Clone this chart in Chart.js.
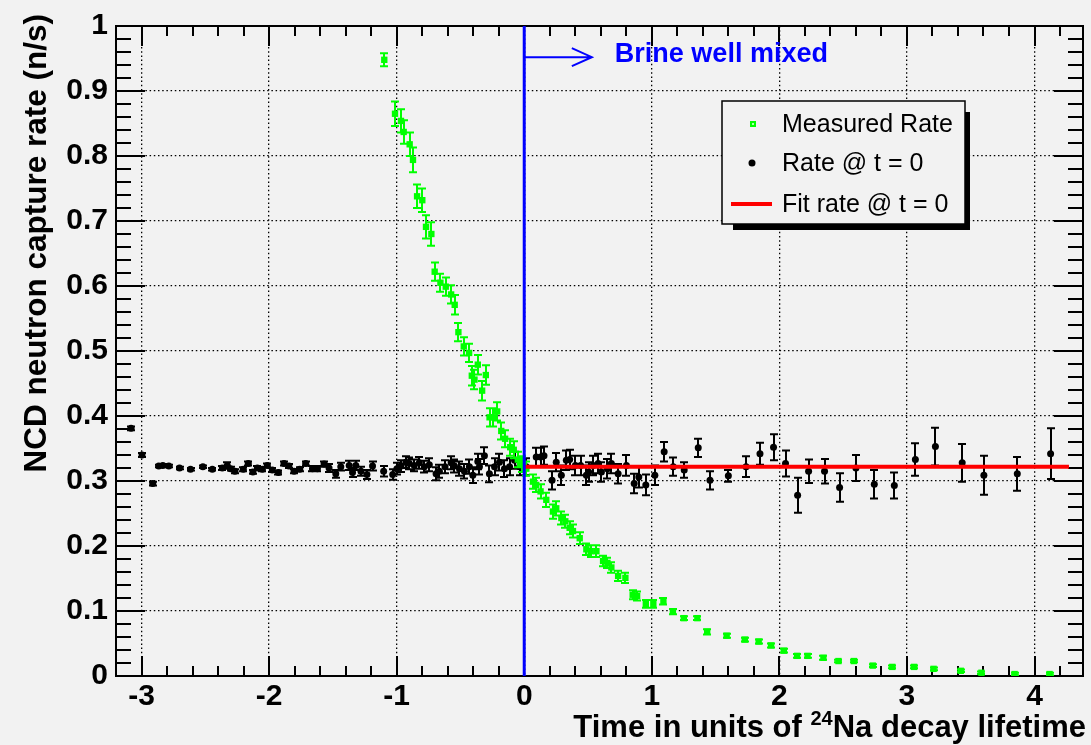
<!DOCTYPE html>
<html>
<head>
<meta charset="utf-8">
<script src="https://cdn.jsdelivr.net/npm/chart.js@4.4.0/dist/chart.umd.min.js"></script>
<style>
  html, body { margin: 0; padding: 0; background: #f2f2f2; }
  #wrap { width: 1091px; height: 745px; position: relative; }
</style>
</head>
<body>
<div id="wrap"><canvas id="c" width="1091" height="745"></canvas></div>
<script>
// ---- Measured NCD capture rate (green) ----
const measuredX = [
  -1.097, -1.013, -0.966, -0.945, -0.898, -0.872, -0.840, -0.799, -0.770, -0.728,
  -0.702, -0.657, -0.615, -0.573, -0.545, -0.516, -0.474, -0.432, -0.411, -0.390,
  -0.364, -0.330, -0.301, -0.272, -0.241, -0.212, -0.180, -0.150, -0.110, -0.082,
  -0.050, -0.020,
  0.016, 0.068, 0.094, 0.128, 0.173, 0.225, 0.251, 0.291, 0.322, 0.356,
  0.382, 0.435, 0.487, 0.521, 0.566, 0.618, 0.652, 0.683, 0.736, 0.793,
  0.850, 0.885, 0.953, 1.012, 1.091, 1.165, 1.251, 1.357, 1.434, 1.587,
  1.729, 1.838, 1.935, 2.035, 2.139, 2.221, 2.345, 2.463, 2.584, 2.732,
  2.885, 3.056, 3.209, 3.422, 3.584, 3.844, 4.118
];
const measuredY = [
  0.948, 0.865, 0.854, 0.837, 0.818, 0.794, 0.738, 0.732, 0.691, 0.680,
  0.622, 0.605, 0.599, 0.587, 0.571, 0.529, 0.507, 0.497, 0.462, 0.456,
  0.479, 0.439, 0.463, 0.398, 0.398, 0.407, 0.377, 0.365, 0.352, 0.348,
  0.333, 0.326,
  0.319, 0.299, 0.294, 0.284, 0.271, 0.253, 0.258, 0.243, 0.238, 0.228,
  0.223, 0.212, 0.195, 0.192, 0.192, 0.177, 0.174, 0.167, 0.154, 0.151,
  0.125, 0.123, 0.111, 0.111, 0.115, 0.099, 0.089, 0.089, 0.068, 0.062,
  0.056, 0.053, 0.047, 0.039, 0.031, 0.031, 0.028, 0.023, 0.023, 0.016,
  0.014, 0.014, 0.011, 0.008, 0.005, 0.003, 0.003
];
const measuredErr = [
  0.010, 0.019, 0.018, 0.018, 0.018, 0.019, 0.018, 0.018, 0.018, 0.018,
  0.014, 0.014, 0.014, 0.014, 0.015, 0.014, 0.014, 0.014, 0.015, 0.015,
  0.015, 0.015, 0.015, 0.014, 0.014, 0.014, 0.013, 0.013, 0.013, 0.013,
  0.012, 0.012,
  0.011, 0.011, 0.011, 0.011, 0.011, 0.011, 0.011, 0.010, 0.010, 0.010,
  0.010, 0.009, 0.009, 0.009, 0.009, 0.008, 0.008, 0.008, 0.008, 0.008,
  0.007, 0.007, 0.006, 0.006, 0.005, 0.004, 0.003, 0.003, 0.004, 0.003,
  0.003, 0.003, 0.003, 0.003, 0.003, 0.003, 0.003, 0.002, 0.002, 0.002,
  0.002, 0.002, 0.002, 0.002, 0.002, 0.002, 0.002
];

// ---- Rate extrapolated to t = 0 (black) ----
const rateX = [
  -3.082, -2.996, -2.912, -2.865, -2.833, -2.786, -2.702, -2.616, -2.519, -2.445,
  -2.367, -2.328, -2.302, -2.268, -2.202, -2.163, -2.127, -2.092, -2.053, -2.014,
  -1.975, -1.927, -1.883, -1.844, -1.804, -1.760, -1.713, -1.660, -1.621, -1.569,
  -1.530, -1.477, -1.438, -1.372, -1.346, -1.320, -1.280, -1.233, -1.189, -1.102,
  -1.031, -0.998, -0.966, -0.927, -0.901, -0.862, -0.822, -0.783, -0.744, -0.691,
  -0.665, -0.621, -0.573, -0.547, -0.508, -0.469, -0.430, -0.403, -0.364, -0.351,
  -0.312, -0.273, -0.233, -0.194, -0.155, -0.115, -0.076, -0.037, 0.016,
  0.094, 0.128, 0.155, 0.218, 0.251, 0.291, 0.330, 0.356, 0.401, 0.442,
  0.487, 0.505, 0.540, 0.579, 0.605, 0.652, 0.683, 0.736, 0.801, 0.862,
  0.898, 0.953, 1.024, 1.097, 1.168, 1.254, 1.364, 1.456, 1.600, 1.739,
  1.848, 1.954, 2.048, 2.143, 2.229, 2.354, 2.472, 2.600, 2.744, 2.901,
  3.066, 3.223, 3.433, 3.603, 3.865, 4.126
];
const rateY = [
  0.381, 0.340, 0.296, 0.323, 0.324, 0.323, 0.320, 0.318, 0.322, 0.318,
  0.320, 0.324, 0.319, 0.315, 0.318, 0.327, 0.314, 0.320, 0.318, 0.324,
  0.317, 0.313, 0.327, 0.323, 0.315, 0.318, 0.327, 0.319, 0.319, 0.326,
  0.320, 0.311, 0.322, 0.324, 0.313, 0.324, 0.315, 0.310, 0.323, 0.315,
  0.310, 0.319, 0.323, 0.329, 0.327, 0.324, 0.328, 0.322, 0.325, 0.311,
  0.315, 0.322, 0.328, 0.323, 0.319, 0.315, 0.322, 0.309, 0.330, 0.322,
  0.339, 0.311, 0.322, 0.329, 0.319, 0.322, 0.332, 0.322, 0.322,
  0.337, 0.337, 0.339, 0.301, 0.329, 0.309, 0.332, 0.333, 0.324, 0.324,
  0.309, 0.314, 0.324, 0.327, 0.314, 0.319, 0.327, 0.311, 0.324, 0.296,
  0.306, 0.294, 0.309, 0.345, 0.322, 0.317, 0.351, 0.301, 0.308, 0.322,
  0.342, 0.352, 0.327, 0.278, 0.315, 0.315, 0.290, 0.320, 0.295, 0.293,
  0.333, 0.353, 0.328, 0.309, 0.311, 0.342
];
const rateErr = [
  0.003, 0.003, 0.003, 0.002, 0.002, 0.002, 0.002, 0.002, 0.002, 0.002,
  0.003, 0.005, 0.003, 0.003, 0.003, 0.003, 0.003, 0.003, 0.003, 0.003,
  0.003, 0.003, 0.003, 0.003, 0.003, 0.003, 0.003, 0.004, 0.004, 0.004,
  0.006, 0.006, 0.006, 0.007, 0.007, 0.007, 0.007, 0.007, 0.007, 0.008,
  0.008, 0.009, 0.009, 0.009, 0.009, 0.009, 0.009, 0.009, 0.010, 0.010,
  0.010, 0.010, 0.010, 0.010, 0.011, 0.011, 0.011, 0.012, 0.012, 0.012,
  0.013, 0.013, 0.013, 0.013, 0.013, 0.013, 0.013, 0.013, 0.013,
  0.014, 0.014, 0.014, 0.014, 0.014, 0.015, 0.015, 0.015, 0.015, 0.015,
  0.015, 0.015, 0.015, 0.015, 0.015, 0.015, 0.015, 0.015, 0.016, 0.015,
  0.016, 0.016, 0.015, 0.015, 0.014, 0.012, 0.014, 0.014, 0.009, 0.016,
  0.017, 0.020, 0.020, 0.027, 0.018, 0.019, 0.022, 0.020, 0.022, 0.020,
  0.025, 0.029, 0.029, 0.030, 0.026, 0.039
];

// ---- Fit of the t = 0 rate and the mixing marker ----
const fitRate = 0.322;
const fitRange = [0, 4.27];
const mixTime = 0;
const mixNote = 'Brine well mixed';

// ---- Axis ticks ----
const xTickValues = [-3, -2, -1, 0, 1, 2, 3, 4];
const xTickLabels = ['-3', '-2', '-1', '0', '1', '2', '3', '4'];
const yTickValues = [0, 0.1, 0.2, 0.3, 0.4, 0.5, 0.6, 0.7, 0.8, 0.9, 1];
const yTickLabels = ['0', '0.1', '0.2', '0.3', '0.4', '0.5', '0.6', '0.7', '0.8', '0.9', '1'];

const seriesNames = ['Measured Rate', 'Rate @ t = 0', 'Fit rate @ t = 0'];

const FONT = '"Liberation Sans", Arial, Helvetica, sans-serif';
const GREEN = '#00ff00', BLACK = '#000000', RED = '#ff0000', BLUE = '#0000ff';

const pts = (xs, ys) => xs.map((x, i) => ({ x, y: ys[i] }));
const labelFor = (vals, labels) => (v) => {
  const i = vals.findIndex(t => Math.abs(t - v) < 1e-6);
  return i < 0 ? '' : labels[i];
};

// vertical error bars with end caps, drawn just beneath each dataset's markers
const errorBars = {
  id: 'errorBars',
  beforeDatasetDraw(chart, args) {
    const ds = chart.data.datasets[args.index];
    if (!ds.errors) return;
    const { ctx, chartArea: a } = chart;
    const xs = chart.scales.x, ys = chart.scales.y;
    const cap = 4;
    ctx.save();
    ctx.beginPath();
    ctx.rect(a.left, a.top, a.right - a.left, a.bottom - a.top);
    ctx.clip();
    ctx.beginPath();
    ctx.strokeStyle = ds.errorColor;
    ctx.lineWidth = 2;
    ds.data.forEach((p, i) => {
      const e = ds.errors[i];
      const px = Math.round(xs.getPixelForValue(p.x));
      const t = ys.getPixelForValue(p.y + e);
      const b = ys.getPixelForValue(p.y - e);
      ctx.moveTo(px, t); ctx.lineTo(px, b);
      ctx.moveTo(px - cap, t); ctx.lineTo(px + cap, t);
      ctx.moveTo(px - cap, b); ctx.lineTo(px + cap, b);
    });
    ctx.stroke();
    ctx.restore();
  }
};

// frame with inward ticks on all four sides, drawn under the data
const frameAxes = {
  id: 'frameAxes',
  beforeDatasetsDraw(chart) {
    const { ctx, chartArea: a } = chart;
    const xs = chart.scales.x, ys = chart.scales.y;
    ctx.save();
    ctx.strokeStyle = BLACK;
    ctx.lineWidth = 2;
    ctx.beginPath();
    for (let k = Math.ceil(xs.min / 0.2 - 1e-9); k * 0.2 <= xs.max + 1e-9; k++) {
      const v = k * 0.2;
      const major = Math.abs(v - Math.round(v)) < 1e-6;
      const len = major ? 20 : 10;
      const px = Math.round(xs.getPixelForValue(v));
      ctx.moveTo(px, a.bottom); ctx.lineTo(px, a.bottom - len);
      ctx.moveTo(px, a.top); ctx.lineTo(px, a.top + len);
    }
    for (let k = 0; k <= 50; k++) {
      const v = k * 0.02;
      const major = k % 5 === 0;
      const len = major ? 29 : 15;
      const py = Math.round(ys.getPixelForValue(v));
      ctx.moveTo(a.left, py); ctx.lineTo(a.left + len, py);
      ctx.moveTo(a.right, py); ctx.lineTo(a.right - len, py);
    }
    ctx.stroke();
    ctx.strokeRect(a.left, a.top, a.right - a.left, a.bottom - a.top);
    ctx.restore();
  }
};

// titles, annotation and legend
const decorations = {
  id: 'decorations',
  afterDraw(chart) {
    const { ctx } = chart;
    const xs = chart.scales.x, ys = chart.scales.y;
    ctx.save();

    // arrow marking the mixing time
    const ay = ys.getPixelForValue(0.952);
    const ax0 = xs.getPixelForValue(mixTime);
    const ax1 = xs.getPixelForValue(mixTime + 0.53);
    ctx.strokeStyle = BLUE;
    ctx.lineWidth = 2;
    ctx.beginPath();
    ctx.moveTo(ax0, ay); ctx.lineTo(ax1, ay);
    ctx.moveTo(ax1 - 20, ay - 9); ctx.lineTo(ax1, ay); ctx.lineTo(ax1 - 20, ay + 9);
    ctx.stroke();
    ctx.fillStyle = BLUE;
    ctx.font = 'bold 27px ' + FONT;
    ctx.textAlign = 'left';
    ctx.textBaseline = 'middle';
    ctx.fillText(mixNote, ax1 + 23, ay - 3);

    // axis titles
    ctx.fillStyle = BLACK;
    ctx.font = 'bold 31.5px ' + FONT;
    ctx.save();
    ctx.translate(37, 14);
    ctx.rotate(-Math.PI / 2);
    ctx.textAlign = 'right';
    ctx.textBaseline = 'middle';
    ctx.fillText('NCD neutron capture rate (n/s)', 0, 0);
    ctx.restore();

    const t1 = 'Time in units of ', sup = '24', t2 = 'Na decay lifetime';
    const bigF = 'bold 31px ' + FONT, supF = 'bold 20px ' + FONT;
    ctx.font = bigF; const w1 = ctx.measureText(t1).width, w3 = ctx.measureText(t2).width;
    ctx.font = supF; const w2 = ctx.measureText(sup).width;
    let tx = 1086 - (w1 + w2 + w3);
    const ty = 737;
    ctx.textAlign = 'left';
    ctx.textBaseline = 'alphabetic';
    ctx.font = bigF; ctx.fillText(t1, tx, ty); tx += w1;
    ctx.font = supF; ctx.fillText(sup, tx, ty - 12); tx += w2;
    ctx.font = bigF; ctx.fillText(t2, tx, ty);

    // legend box with drop shadow
    const L = 722, T = 101, R = 965, B = 224;
    ctx.fillStyle = BLACK;
    ctx.fillRect(733, 112, 237, 118);
    ctx.fillStyle = '#f2f2f2';
    ctx.fillRect(L, T, R - L, B - T);
    ctx.lineWidth = 1.5;
    ctx.strokeStyle = BLACK;
    ctx.strokeRect(L, T, R - L, B - T);

    const rows = [124, 163, 204];
    ctx.font = '25px ' + FONT;
    ctx.textBaseline = 'middle';
    ctx.fillStyle = BLACK;
    seriesNames.forEach((n, i) => ctx.fillText(n, 782, rows[i] + 1));
    // markers
    ctx.fillStyle = GREEN;
    ctx.fillRect(750, rows[0] - 3, 6, 6);
    ctx.fillStyle = '#b0ffb0';
    ctx.fillRect(752, rows[0] - 1, 2, 2);
    ctx.fillStyle = BLACK;
    ctx.beginPath(); ctx.arc(752, rows[1], 3.5, 0, Math.PI * 2); ctx.fill();
    ctx.strokeStyle = RED;
    ctx.lineWidth = 4;
    ctx.beginPath(); ctx.moveTo(731, rows[2]); ctx.lineTo(772, rows[2]); ctx.stroke();

    ctx.restore();
  }
};

const gridCfg = { color: BLACK, lineWidth: 1.3, drawTicks: false, tickLength: 0 };
const borderCfg = { display: false, dash: [1.5, 2.7] };

new Chart(document.getElementById('c'), {
  type: 'scatter',
  data: {
    datasets: [
      {
        label: 'mixing',
        data: [{ x: mixTime, y: 0 }, { x: mixTime, y: 1 }],
        showLine: true, borderColor: BLUE, borderWidth: 3,
        pointRadius: 0, order: 0
      },
      {
        label: seriesNames[2],
        data: [{ x: fitRange[0], y: fitRate }, { x: fitRange[1], y: fitRate }],
        showLine: true, borderColor: RED, borderWidth: 4,
        pointRadius: 0, order: 1
      },
      {
        label: seriesNames[0],
        data: pts(measuredX, measuredY),
        errors: measuredErr, errorColor: GREEN,
        pointStyle: 'rect', pointRadius: 4.5, pointBorderWidth: 0,
        backgroundColor: GREEN, borderColor: GREEN, order: 2
      },
      {
        label: seriesNames[1],
        data: pts(rateX, rateY),
        errors: rateErr, errorColor: BLACK,
        pointStyle: 'circle', pointRadius: 3.5, pointBorderWidth: 0,
        backgroundColor: BLACK, borderColor: BLACK, order: 3
      }
    ]
  },
  options: {
    responsive: false,
    devicePixelRatio: 1,
    animation: false,
    layout: { padding: { top: 20, right: 8, left: 0, bottom: 0 } },
    plugins: { legend: { display: false }, tooltip: { enabled: false } },
    scales: {
      x: {
        type: 'linear', position: 'bottom', min: -3.2, max: 4.38,
        afterFit: (s) => { s.height = 69; },
        grid: gridCfg, border: borderCfg,
        ticks: {
          stepSize: 1, includeBounds: false, padding: 3,
          color: BLACK, font: { family: FONT, size: 30, weight: 'bold', lineHeight: 1.2 },
          callback: labelFor(xTickValues, xTickLabels)
        }
      },
      y: {
        type: 'linear', min: 0, max: 1,
        afterFit: (s) => { s.width = 116; },
        grid: gridCfg, border: borderCfg,
        ticks: {
          stepSize: 0.1, includeBounds: false, padding: 8,
          color: BLACK, font: { family: FONT, size: 30, weight: 'bold' },
          callback: labelFor(yTickValues, yTickLabels)
        }
      }
    }
  },
  plugins: [frameAxes, errorBars, decorations]
});
</script>
</body>
</html>
